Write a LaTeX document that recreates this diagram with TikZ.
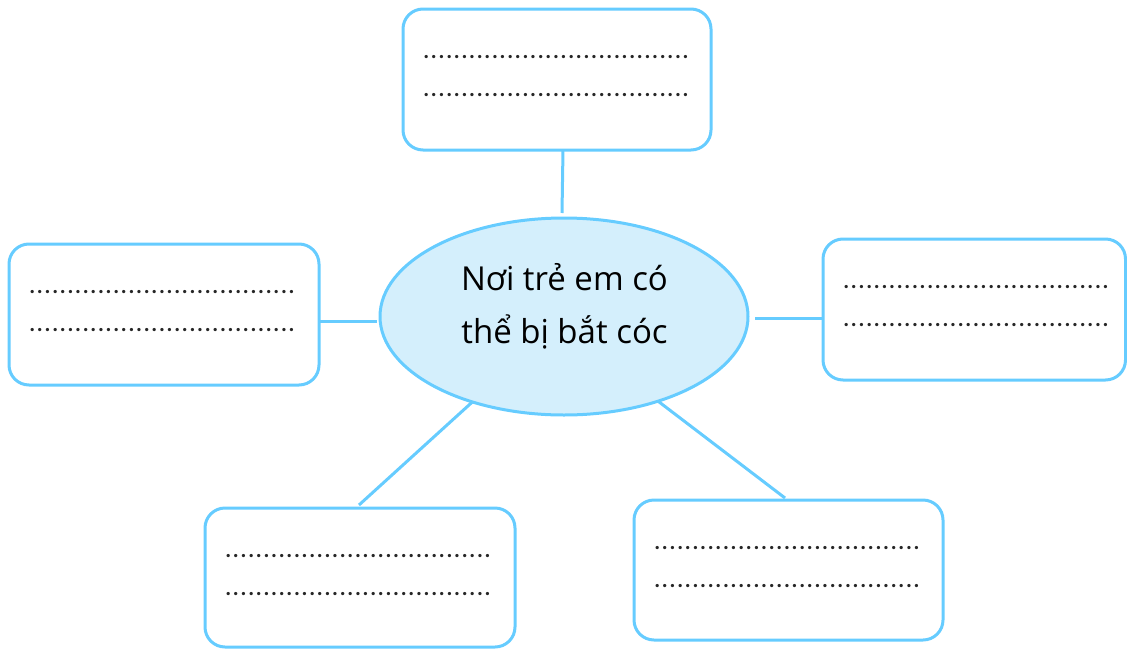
\documentclass[tikz,border=0pt]{standalone}
\usepackage{fontspec}
\setmainfont{Open Sans}
\newfontfamily\dotfont{Carlito}
\usetikzlibrary{shapes.geometric,calc}
\definecolor{edgeblue}{RGB}{102,204,255}
\definecolor{fillblue}{RGB}{212,239,252}
\newcommand\dd{\hbox to 7.63pt{\hss.\hss}}
\newcommand\ddv{\dd\dd\dd\dd\dd}
\newcommand\dotrow{{\dotfont\bfseries\fontsize{22pt}{22pt}\selectfont\ddv\ddv\ddv\ddv\ddv\ddv\ddv}}
\begin{document}
\begin{tikzpicture}[x=1pt,y=-1pt,
  answerbox/.style={draw=edgeblue, line width=3pt, rounded corners=20pt, fill=white,
    minimum width=#1, minimum height=141pt, inner sep=0pt, outer sep=0pt},
  hub/.style={ellipse, draw=edgeblue, fill=fillblue, line width=3pt,
    minimum width=368pt, minimum height=197pt, inner sep=0pt, outer sep=0pt},
  dotsline/.style={anchor=base west, inner sep=0pt, outer sep=0pt, text=black!85},
  link/.style={edgeblue, line width=3pt}]
\useasboundingbox (0,0) rectangle (1127,648);
% boxes
\node[answerbox=308pt] (t) at (557,79.5) {};
\node[answerbox=310pt] (l) at (164,314.5) {};
\node[answerbox=302.5pt] (r) at (974.25,309.5) {};
\node[answerbox=310pt, minimum height=139pt] (bl) at (360,577.5) {};
\node[answerbox=309pt, minimum height=140pt] (br) at (788.5,570) {};
% hub
\node[hub] (c) at (564,316.5) {};
\node[align=center, anchor=base, font=\fontsize{33pt}{53pt}\selectfont, inner sep=0pt] (ct) at (564.5,343) {Nơi trẻ em có\\thể bị bắt cóc};
% dot rows
\foreach \b in {t,l,r,bl,br}{
  \node[dotsline] (\b1) at ($(\b.north west)+(19.5,49.5)$) {\dotrow};
  \node[dotsline] (\b2) at ($(\b.north west)+(19.5,87)$) {\dotrow};
}
% connectors
\draw[link] ($(t.south)+(6,0)$) -- ($(c.north)+(-2,-5)$);
\draw[link] ($(l.east)+(0,6.5)$) -- ($(c.west)+(-3,4.5)$);
\draw[link] ($(c.east)+(7,1.5)$) -- ($(r.west)+(0,8.5)$);
\draw[link] (c.223) -- ($(bl.north)+(-1,-3)$);
\draw[link] (c.318) -- ($(br.north)+(-3.5,-2)$);
\end{tikzpicture}
\end{document}
